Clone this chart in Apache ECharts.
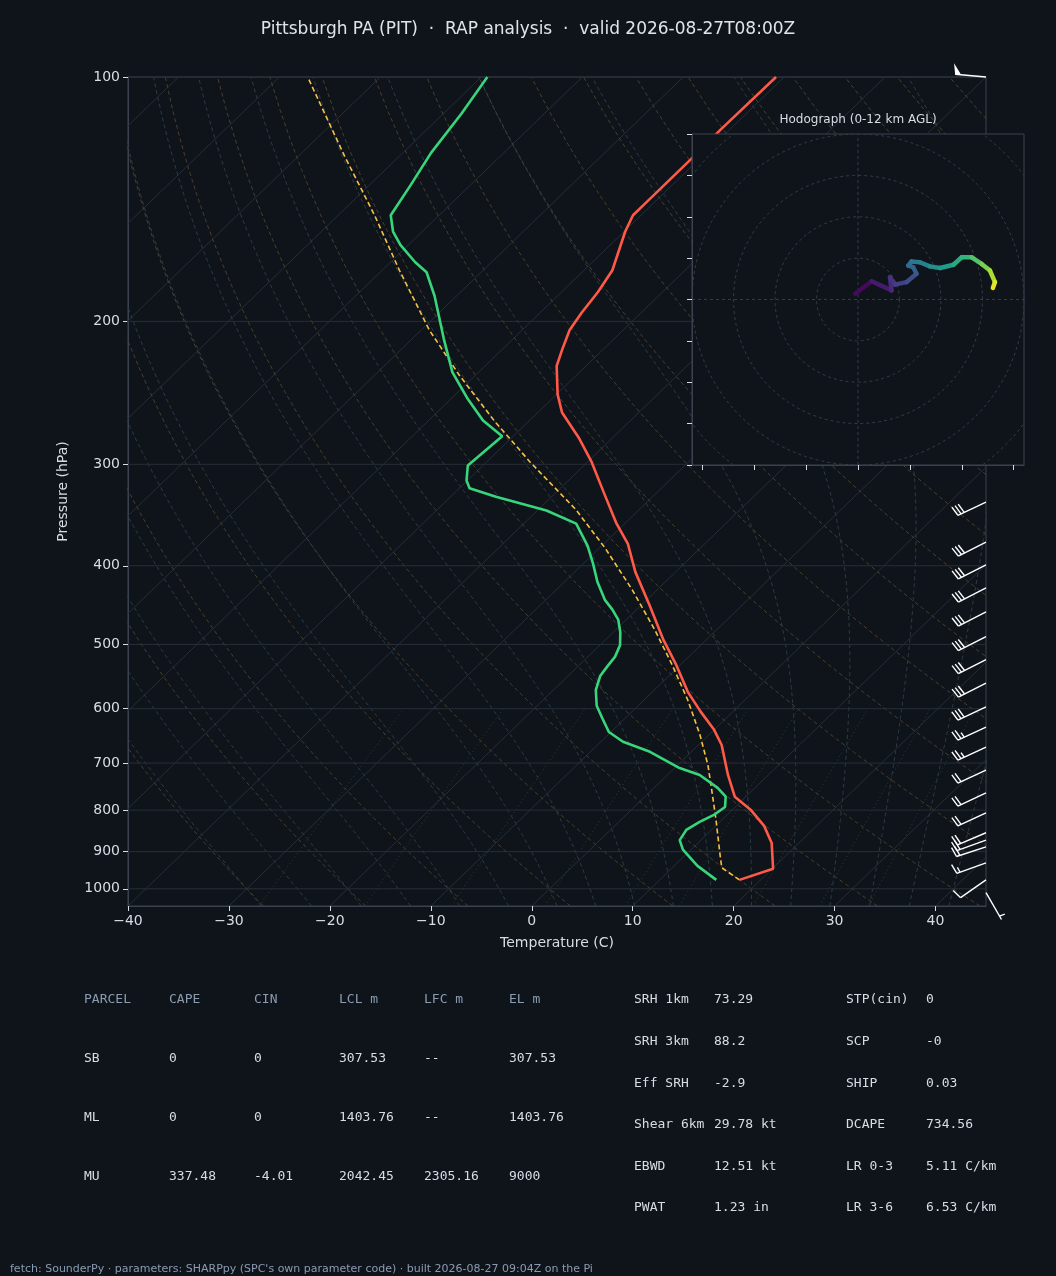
<!DOCTYPE html>
<html lang="en">
<head>
<meta charset="UTF-8">
<title>Skew-T PIT</title>
<script src="https://cdn.jsdelivr.net/npm/echarts@6/dist/echarts.min.js"></script>
<style>
  html, body { margin: 0; padding: 0; background: #0f141b; }
  #chart { width: 1056px; height: 1276px; }
</style>
</head>
<body>
<div id="chart"></div>
<script>
// sounding (pressure hPa, temperature C)
var tempP = [975, 945, 878, 836.5, 799, 770, 724, 665, 637, 605, 572, 530, 494, 448, 407, 376, 355, 326, 298, 278, 259, 246, 227, 217, 205, 195, 184, 173, 155, 148, 143, 126.5, 116, 100];
var tempT = [17.9, 20.1, 17.3, 14.8, 11.8, 8.9, 6.0, 2.3, 0.0, -3.2, -6.5, -10.4, -14.2, -19.1, -24.0, -27.6, -30.8, -35.1, -39.6, -43.4, -47.6, -49.9, -52.9, -54.0, -55.3, -55.9, -56.4, -57.2, -59.9, -60.8, -60.8, -60.8, -60.9, -60.8];
var dewP = [975, 937, 895, 871, 846, 827, 811, 793, 770, 751, 724, 710, 678, 659, 641, 616, 595, 569, 547, 531, 518, 501, 483, 466, 453, 441, 419, 397, 378, 355, 342, 329, 321, 314, 301, 277, 265, 248.5, 231, 210, 186, 174, 169, 161, 155, 148, 136, 124, 111, 100];
var dewT = [15.6, 12.3, 9.2, 7.9, 7.5, 8.0, 8.7, 9.0, 8.0, 6.3, 3.2, 0.5, -4.1, -7.8, -10.2, -12.3, -14.1, -15.8, -16.8, -17.1, -17.3, -18.0, -19.3, -20.8, -22.4, -24.1, -26.7, -29.1, -31.4, -34.8, -39.1, -45.5, -49.0, -50.1, -51.5, -51.1, -54.6, -58.5, -62.6, -66.9, -72.2, -75.4, -77.6, -80.8, -82.9, -84.8, -85.9, -87.2, -88.2, -89.4];
var parcelP = [975, 942, 908, 822, 755, 704, 646, 585, 530, 480, 428, 380, 341, 298, 265, 233, 205, 173, 148, 125, 100];
var parcelT = [17.9, 14.9, 13.4, 9.4, 5.9, 3.0, -0.9, -5.7, -10.8, -16.1, -22.5, -29.5, -36.3, -45.7, -53.5, -61.6, -69.2, -78.3, -86.4, -95.5, -107.2];

// wind barbs: pressure, speed (kt), direction (deg)
var windP = [100, 334, 374, 399, 426, 456, 489, 522, 558, 597, 632, 669, 714, 762, 806, 853, 871, 888, 929, 975, 1011];
var windSpd = [50, 30, 30, 30, 30, 30, 30, 30, 30, 30, 25, 25, 20, 20, 20, 20, 20, 20, 15, 10, 5];
var windDir = [275, 245, 243, 243, 243, 243, 243, 243, 243, 245, 245, 245, 245, 245, 245, 247, 250, 252, 250, 235, 150];

// hodograph u, v and height (km)
var hodoU = [-0.7, 3.3, 8.1, 7.7, 8.9, 11.7, 14.1, 13.3, 12.1, 12.9, 14.9, 17.3, 19.8, 23.0, 25.0, 27.4, 29.8, 31.8, 33.0, 32.5];
var hodoV = [1.4, 4.4, 2.2, 5.4, 3.6, 4.2, 6.2, 7.8, 8.2, 9.2, 9.0, 8.0, 7.6, 8.4, 10.2, 10.2, 8.6, 7.0, 4.2, 2.8];
var hodoZ = [0, 0.6, 1.2, 1.6, 2.0, 2.6, 3.1, 3.6, 4.0, 4.5, 5.0, 5.6, 6.2, 6.9, 7.6, 8.3, 9.1, 10.0, 11.0, 12.0];

var pTicks = [100, 200, 300, 400, 500, 600, 700, 800, 900, 1000];

var tableHead = ['PARCEL', 'CAPE', 'CIN', 'LCL m', 'LFC m', 'EL m'];
var tableRows = [
  ['SB', '0', '0', '307.53', '--', '307.53'],
  ['ML', '0', '0', '1403.76', '--', '1403.76'],
  ['MU', '337.48', '-4.01', '2042.45', '2305.16', '9000']
];
var paramsA = [['SRH 1km', '73.29'], ['SRH 3km', '88.2'], ['Eff SRH', '-2.9'], ['Shear 6km', '29.78 kt'], ['EBWD', '12.51 kt'], ['PWAT', '1.23 in']];
var paramsB = [['STP(cin)', '0'], ['SCP', '-0'], ['SHIP', '0.03'], ['DCAPE', '734.56'], ['LR 0-3', '5.11 C/km'], ['LR 3-6', '6.53 C/km']];

var PBOT = 1050, PTOP = 100;
function skx(t, p) { return t + 85 * Math.log10(PBOT / p) / Math.log10(PBOT / PTOP); }
function pt(t, p) { return [skx(t, p), Math.log10(p)]; }
function profile(ps, ts) { return ps.map(function (p, i) { return pt(ts[i], p); }); }

// reference lines
var levels = [];
for (var p = 1050; p >= 100; p -= 10) levels.push(p);

var bg = [];
function bgLine(data, color, type, w) {
  bg.push({ type: 'line', data: data, showSymbol: false, silent: true, clip: true, z: 1,
    lineStyle: { color: color, width: w || 1, type: type }, animation: false });
}
for (var t = -130; t <= 40; t += 10) {
  bgLine([pt(t, 1050), pt(t, 100)], '#262e38', 'solid', 1);
}
for (var th = -30; th <= 200; th += 10) {
  bgLine(levels.map(function (p) { return pt((th + 273.15) * Math.pow(p / 1000, 0.2857) - 273.15, p); }), '#4a3f2c', [4, 3], 1);
}
function es(tc) { return 6.112 * Math.exp(17.67 * tc / (tc + 243.5)); }
function moistRate(tk, p) {
  var rs = 0.622 * es(tk - 273.15) / (p - es(tk - 273.15));
  var Lv = 2.501e6, Rd = 287.04, cp = 1005.7;
  return (Rd * tk + Lv * rs) / (p * (cp + Lv * Lv * rs * 0.622 / (Rd * tk * tk)));
}
function moist(t0) {
  var tk = t0 + 273.15, p, dp = 5, up = [], tt = tk;
  for (p = 1000; p >= 100; p -= dp) {
    up.push(pt(tt - 273.15, p));
    var k1 = moistRate(tt, p), k2 = moistRate(tt - k1 * dp, p - dp);
    tt -= 0.5 * (k1 + k2) * dp;
  }
  tt = tk;
  var down = [];
  for (p = 1000; p <= 1050; p += dp) {
    down.unshift(pt(tt - 273.15, p));
    tt += moistRate(tt, p) * dp;
  }
  return down.concat(up);
}
var moistStarts = [-30, -25, -20, -15, -10, -5, 0, 4, 8, 12, 16, 20, 24, 28, 32, 36, 40, 44];
moistStarts.forEach(function (t0) { bgLine(moist(t0), '#2c3c44', [4, 3], 1); });
[0.0004, 0.001, 0.002, 0.004, 0.007, 0.01, 0.016, 0.024, 0.032].forEach(function (w) {
  var d = [];
  for (var p = 1050; p >= 600; p -= 25) {
    var e = w * p / (0.622 + w), l = Math.log(e / 6.112);
    d.push(pt(243.5 * l / (17.67 - l), p));
  }
  bgLine(d, '#2a4034', [1, 3], 1);
});
pTicks.forEach(function (p) {
  bgLine([[-40, Math.log10(p)], [45, Math.log10(p)]], '#262e38', 'solid', 1);
});

// wind barbs
var barbData = windP.map(function (p, i) { return [45, Math.log10(p), windSpd[i], windDir[i]]; });
function renderBarb(params, api) {
  var c = api.coord([api.value(0), api.value(1)]);
  var spd = api.value(2), dir = api.value(3) * Math.PI / 180;
  var dx = Math.sin(dir), dy = -Math.cos(dir);
  var L = 31;
  var tip = [c[0] + dx * L, c[1] + dy * L];
  var px = dy, py = -dx;
  if (py > 0) { px = -px; py = -py; }
  var kids = [{ type: 'line', shape: { x1: c[0], y1: c[1], x2: tip[0], y2: tip[1] } }];
  var pos = 0, s = Math.round(spd / 5) * 5;
  while (s >= 50) {
    var b1 = [tip[0] - dx * pos, tip[1] - dy * pos], b2 = [tip[0] - dx * (pos + 6), tip[1] - dy * (pos + 6)];
    kids.push({ type: 'polygon', shape: { points: [b1, [b1[0] + px * 11 + dx * 2, b1[1] + py * 11 + dy * 2], b2] }, style: { fill: '#ffffff' } });
    pos += 8; s -= 50;
  }
  while (s >= 10) {
    var a = [tip[0] - dx * pos, tip[1] - dy * pos];
    kids.push({ type: 'line', shape: { x1: a[0], y1: a[1], x2: a[0] + px * 10 + dx * 2, y2: a[1] + py * 10 + dy * 2 } });
    pos += 3.5; s -= 10;
  }
  if (s >= 5) {
    if (pos === 0) pos = 4;
    var h = [tip[0] - dx * pos, tip[1] - dy * pos];
    kids.push({ type: 'line', shape: { x1: h[0], y1: h[1], x2: h[0] + px * 5.5 + dx * 1, y2: h[1] + py * 5.5 + dy * 1 } });
  }
  kids.forEach(function (k) { if (k.type === 'line') k.style = { stroke: '#ffffff', lineWidth: 1.4 }; });
  return { type: 'group', children: kids };
}

// viridis colour for hodograph height
var viridis = ['#440154', '#482878', '#3e4989', '#31688e', '#26828e', '#1f9e89', '#35b779', '#6ece58', '#b5de2b', '#fde725'];
function hexRgb(h) { return [parseInt(h.substr(1, 2), 16), parseInt(h.substr(3, 2), 16), parseInt(h.substr(5, 2), 16)]; }
function colorAt(z) {
  var f = Math.max(0, Math.min(1, z / 12)) * (viridis.length - 1), i = Math.min(viridis.length - 2, Math.floor(f)), r = f - i;
  var a = hexRgb(viridis[i]), b = hexRgb(viridis[i + 1]);
  return 'rgb(' + [0, 1, 2].map(function (k) { return Math.round(a[k] + (b[k] - a[k]) * r); }).join(',') + ')';
}
function renderHodo(params, api) {
  var i = params.dataIndex;
  if (i === 0) return null;
  var a = api.coord([hodoU[i - 1], hodoV[i - 1]]), b = api.coord([api.value(0), api.value(1)]);
  return { type: 'line', shape: { x1: a[0], y1: a[1], x2: b[0], y2: b[1] },
    style: { stroke: colorAt((hodoZ[i - 1] + hodoZ[i]) / 2), lineWidth: 4.5, lineCap: 'round' } };
}

// hodograph rings
var hodoSeries = [];
[10, 20, 30, 40, 50, 60].forEach(function (r) {
  var d = [];
  for (var a = 0; a <= 360; a += 4) d.push([r * Math.cos(a * Math.PI / 180), r * Math.sin(a * Math.PI / 180)]);
  hodoSeries.push({ type: 'line', xAxisIndex: 1, yAxisIndex: 1, data: d, showSymbol: false, silent: true, z: 60, clip: true,
    lineStyle: { color: '#333b47', width: 1, type: [3, 3] }, animation: false });
});
hodoSeries.push({ type: 'line', xAxisIndex: 1, yAxisIndex: 1, data: [[-40, 0], [40, 0]], showSymbol: false, silent: true, z: 60,
  lineStyle: { color: '#333b47', width: 1, type: [3, 3] }, animation: false });
hodoSeries.push({ type: 'line', xAxisIndex: 1, yAxisIndex: 1, data: [[0, -40], [0, 40]], showSymbol: false, silent: true, z: 60,
  lineStyle: { color: '#333b47', width: 1, type: [3, 3] }, animation: false });
hodoSeries.push({ type: 'custom', xAxisIndex: 1, yAxisIndex: 1, z: 62, silent: true, clip: true,
  data: hodoU.map(function (u, i) { return [u, hodoV[i], hodoZ[i]]; }), renderItem: renderHodo });

var txt = [];
function text(x, y, s, color, size, font, align) {
  txt.push({ type: 'text', x: x, y: y, z: 100, style: { text: s, fill: color, fontSize: size, fontFamily: font || 'DejaVu Sans', textAlign: align || 'left', textVerticalAlign: 'middle' } });
}
var mono = 'DejaVu Sans Mono';
var colX = [84, 169, 254, 339, 424, 509];
tableHead.forEach(function (h, i) { text(colX[i], 1000, h, '#8b9bb0', 13, mono); });
tableRows.forEach(function (r, j) { r.forEach(function (v, i) { text(colX[i], 1059 + j * 59, v, '#d8dde4', 13, mono); }); });
paramsA.forEach(function (r, j) { text(634, 1000 + j * 41.6, r[0], '#d8dde4', 13, mono); text(714, 1000 + j * 41.6, r[1], '#d8dde4', 13, mono); });
paramsB.forEach(function (r, j) { text(846, 1000 + j * 41.6, r[0], '#d8dde4', 13, mono); text(926, 1000 + j * 41.6, r[1], '#d8dde4', 13, mono); });
text(10, 1269, 'fetch: SounderPy · parameters: SHARPpy (SPC\'s own parameter code) · built 2026-08-27 09:04Z on the Pi', '#8b9bb0', 11);
text(858, 120, 'Hodograph (0-12 km AGL)', '#d8dde4', 12, null, 'center');
txt.push({ type: 'rect', x: 692, y: 134, z: 50, shape: { width: 332, height: 331 }, style: { fill: '#0f141b', stroke: '#3a4250', lineWidth: 1 } });

var axisCol = '#3a4250', labCol = '#d8dde4';
var chart = echarts.init(document.getElementById('chart'));
chart.setOption({
  backgroundColor: '#0f141b',
  animation: false,
  title: { text: 'Pittsburgh PA (PIT)  ·  RAP analysis  ·  valid 2026-08-27T08:00Z', left: 'center', top: 16,
    textStyle: { color: '#e0e4ea', fontSize: 17, fontWeight: 'normal', fontFamily: 'DejaVu Sans' } },
  graphic: txt,
  grid: [
    { left: 128, top: 77, width: 858, height: 829, show: true, borderColor: axisCol, backgroundColor: 'transparent' },
    { left: 692, top: 134, width: 332, height: 331, z: 55 }
  ],
  xAxis: [
    { type: 'value', min: -40, max: 45, interval: 10, name: 'Temperature (C)', nameLocation: 'middle', nameGap: 30,
      nameTextStyle: { color: labCol, fontSize: 14, fontFamily: 'DejaVu Sans' },
      axisLine: { show: true, onZero: false, lineStyle: { color: axisCol } }, axisTick: { show: true, lineStyle: { color: labCol } },
      splitLine: { show: false },
      axisLabel: { color: labCol, fontSize: 14, fontFamily: 'DejaVu Sans', showMaxLabel: false,
        formatter: function (v) { return String(v).replace('-', '\u2212'); } } },
    { type: 'value', gridIndex: 1, min: -40, max: 40, z: 70,
      axisLine: { show: true, onZero: false, lineStyle: { color: axisCol } },
      axisTick: { show: true, customValues: [-37.5, -25, -12.5, 0, 12.5, 25, 37.5], lineStyle: { color: labCol } },
      axisLabel: { show: false }, splitLine: { show: false } }
  ],
  yAxis: [
    { type: 'value', inverse: true, min: 2, max: Math.log10(PBOT), name: 'Pressure (hPa)', nameLocation: 'middle', nameGap: 58,
      nameTextStyle: { color: labCol, fontSize: 14, fontFamily: 'DejaVu Sans' },
      axisLine: { show: true, onZero: false, lineStyle: { color: axisCol } },
      axisTick: { show: true, customValues: pTicks.map(Math.log10), lineStyle: { color: labCol } },
      axisLabel: { color: labCol, fontSize: 14, fontFamily: 'DejaVu Sans', customValues: pTicks.map(Math.log10),
        formatter: function (v) { return Math.round(Math.pow(10, v)); } },
      splitLine: { show: false } },
    { type: 'value', gridIndex: 1, min: -40, max: 40, interval: 10, z: 70,
      axisLine: { show: true, onZero: false, lineStyle: { color: axisCol } },
      axisTick: { show: true, lineStyle: { color: labCol } },
      axisLabel: { show: false }, splitLine: { show: false } }
  ],
  series: bg.concat([
    { type: 'line', data: profile(parcelP, parcelT), showSymbol: false, z: 5, lineStyle: { color: '#f5c242', width: 1.6, type: [5, 3] } },
    { type: 'line', data: profile(tempP, tempT), showSymbol: false, z: 6, lineStyle: { color: '#ff5a48', width: 2.6 } },
    { type: 'line', data: profile(dewP, dewT), showSymbol: false, z: 6, lineStyle: { color: '#38d67a', width: 2.6 } },
    { type: 'custom', data: barbData, renderItem: renderBarb, clip: false, z: 8, silent: true }
  ]).concat(hodoSeries)
});
</script>
</body>
</html>
